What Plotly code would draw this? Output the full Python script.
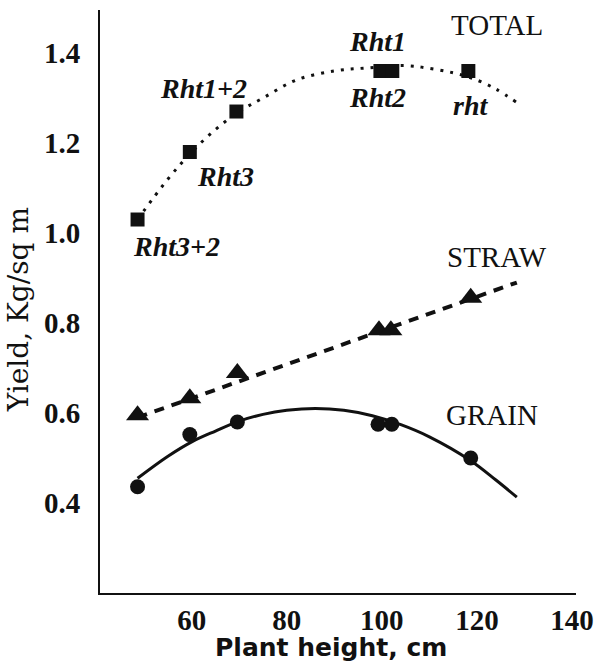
import plotly.graph_objects as go

# ---- data ----
total_x = [48.6, 59.6, 69.4, 99.7, 102.2, 118.2]
total_y = [1.03, 1.18, 1.27, 1.36, 1.36, 1.36]
total_curve_x = [48.6, 55, 60, 65, 70, 75, 82, 90, 97, 105, 110, 115, 119, 124, 128.4]
total_curve_y = [1.03, 1.12, 1.18, 1.23, 1.27, 1.30, 1.34, 1.36, 1.367, 1.372, 1.366, 1.356, 1.344, 1.32, 1.29]

straw_x = [48.6, 59.6, 69.6, 99.4, 101.9, 118.7]
straw_y = [0.595, 0.633, 0.689, 0.784, 0.784, 0.856]
straw_line_x = [48.6, 128.4]
straw_line_y = [0.59, 0.89]

grain_x = [48.6, 59.6, 69.6, 99.2, 102.1, 118.7]
grain_y = [0.436, 0.552, 0.580, 0.575, 0.575, 0.500]
grain_curve_x = [48.6, 55, 60, 65, 70, 75, 80, 86, 92, 98, 104, 110, 118.7, 124, 128.4]
grain_curve_y = [0.455, 0.504, 0.536, 0.56, 0.582, 0.597, 0.606, 0.61, 0.606, 0.594, 0.574, 0.547, 0.494, 0.451, 0.413]

x_ticks = [60, 80, 100, 120, 140]
y_ticks = [0.4, 0.6, 0.8, 1.0, 1.2, 1.4]
y_tick_text = ["0.4", "0.6", "0.8", "1.0", "1.2", "1.4"]

series_labels = ["TOTAL", "STRAW", "GRAIN"]
series_label_x = [124.2, 124.2, 123.2]
series_label_y = [1.463, 0.946, 0.596]

genotype_labels = ["Rht1", "Rht2", "rht", "Rht1+2", "Rht3", "Rht3+2"]
genotype_label_x = [99.1, 99.1, 118.6, 62.5, 67.1, 56.7]
genotype_label_y = [1.426, 1.302, 1.284, 1.322, 1.126, 0.969]

INK = "#111111"
SERIF = "Liberation Serif"

fig = go.Figure()

fig.add_trace(go.Scatter(x=total_curve_x, y=total_curve_y, mode="lines",
                         line=dict(color=INK, width=3, dash="3px,7px", shape="spline"),
                         hoverinfo="skip", showlegend=False))
fig.add_trace(go.Scatter(x=straw_line_x, y=straw_line_y, mode="lines",
                         line=dict(color=INK, width=4, dash="10px,8px"),
                         hoverinfo="skip", showlegend=False))
fig.add_trace(go.Scatter(x=grain_curve_x, y=grain_curve_y, mode="lines",
                         line=dict(color=INK, width=3, shape="spline"),
                         hoverinfo="skip", showlegend=False))

fig.add_trace(go.Scatter(x=total_x, y=total_y, mode="markers", name="Total",
                         marker=dict(symbol="square", size=14, color=INK),
                         showlegend=False))
fig.add_trace(go.Scatter(x=straw_x, y=straw_y, mode="markers", name="Straw",
                         marker=dict(symbol="triangle-up", size=20, color=INK),
                         showlegend=False))
fig.add_trace(go.Scatter(x=grain_x, y=grain_y, mode="markers", name="Grain",
                         marker=dict(symbol="circle", size=15, color=INK),
                         showlegend=False))

annotations = []
for t, x, y in zip(series_labels, series_label_x, series_label_y):
    annotations.append(dict(x=x, y=y, xref="x", yref="y", text=t, showarrow=False,
                            xanchor="center", yanchor="middle",
                            font=dict(family=SERIF, size=29, color=INK)))
for t, x, y in zip(genotype_labels, genotype_label_x, genotype_label_y):
    annotations.append(dict(x=x, y=y, xref="x", yref="y", text=t, showarrow=False,
                            xanchor="center", yanchor="middle",
                            font=dict(family=SERIF, size=28, color=INK,
                                      style="italic", weight="bold")))

annotations.append(dict(x=0.485, y=0, xref="paper", yref="paper", text="Plant height, cm",
                        showarrow=False, xanchor="center", yanchor="middle", yshift=-54,
                        font=dict(family="DejaVu Sans", size=25, color=INK, weight="bold")))
annotations.append(dict(x=0, y=0.485, xref="paper", yref="paper", text="Yield, Kg/sq m",
                        showarrow=False, xanchor="center", yanchor="middle", xshift=-82,
                        textangle=-90,
                        font=dict(family="DejaVu Serif", size=28, color=INK)))

fig.update_layout(
    width=604, height=661,
    margin=dict(l=100, r=22, t=10, b=68),
    paper_bgcolor="white", plot_bgcolor="white",
    annotations=annotations,
    showlegend=False,
)
fig.update_xaxes(range=[40.7, 140.85], tickvals=x_ticks, showgrid=False, zeroline=False,
                 showline=True, linecolor=INK, linewidth=2, ticks="",
                 ticklabelstandoff=0,
                 tickfont=dict(family=SERIF, size=29, color=INK, weight="bold"))
fig.update_yaxes(range=[0.2, 1.4956], tickvals=y_ticks, ticktext=y_tick_text,
                 showgrid=False, zeroline=False,
                 showline=True, linecolor=INK, linewidth=2, ticks="",
                 ticklabelstandoff=12,
                 tickfont=dict(family=SERIF, size=29, color=INK, weight="bold"))

fig.write_html("out.html")
